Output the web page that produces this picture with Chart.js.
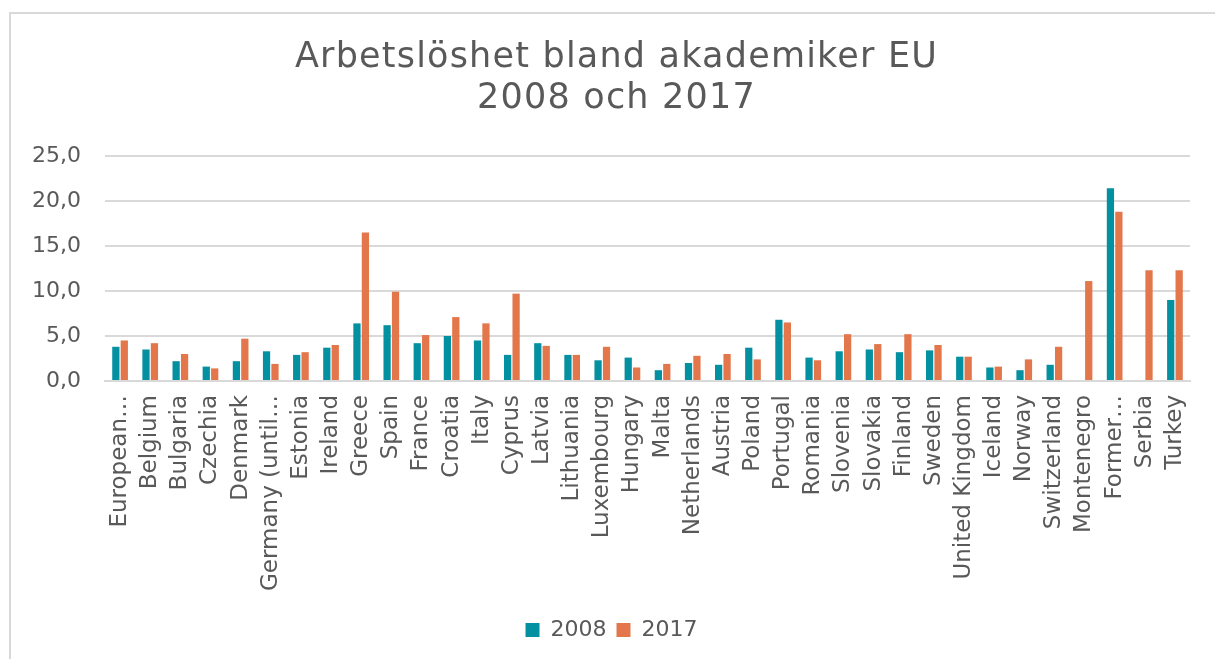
<!DOCTYPE html>
<html>
<head>
<meta charset="utf-8">
<script src="https://cdn.jsdelivr.net/npm/chart.js@4/dist/chart.umd.min.js"></script>
<style>
  html, body { margin: 0; padding: 0; background: #fff; overflow: hidden; }
  #frame {
    position: absolute; left: 9px; top: 12px; width: 1206px; height: 660px;
    border-left: 2px solid #d9d9d9; border-top: 2px solid #d9d9d9;
  }
  #wrap { position: absolute; left: 0; top: 0; width: 1215px; height: 659px; }
</style>
</head>
<body>
<div id="frame"></div>
<div id="wrap"><canvas id="barChart"></canvas></div>
<script>
// labels as shown on the axis (long names are cut off in the original)
let countries = ['European…', 'Belgium', 'Bulgaria', 'Czechia', 'Denmark', 'Germany (until…',
    'Estonia', 'Ireland', 'Greece', 'Spain', 'France', 'Croatia', 'Italy', 'Cyprus', 'Latvia',
    'Lithuania', 'Luxembourg', 'Hungary', 'Malta', 'Netherlands', 'Austria', 'Poland', 'Portugal',
    'Romania', 'Slovenia', 'Slovakia', 'Finland', 'Sweden', 'United Kingdom', 'Iceland', 'Norway',
    'Switzerland', 'Montenegro', 'Former…', 'Serbia', 'Turkey']

let values2008 = [3.8, 3.5, 2.2, 1.6, 2.2, 3.3, 2.9, 3.7, 6.4, 6.2, 4.2, 5.0, 4.5, 2.9, 4.2,
    2.9, 2.3, 2.6, 1.2, 2.0, 1.8, 3.7, 6.8, 2.6, 3.3, 3.5, 3.2, 3.4, 2.7, 1.5, 1.2,
    1.8, null, 21.4, null, 9.0]

let values2017 = [4.5, 4.2, 3.0, 1.4, 4.7, 1.9, 3.2, 4.0, 16.5, 9.9, 5.1, 7.1, 6.4, 9.7, 3.9,
    2.9, 3.8, 1.5, 1.9, 2.8, 3.0, 2.4, 6.5, 2.3, 5.2, 4.1, 5.2, 4.0, 2.7, 1.6, 2.4,
    3.8, 11.1, 18.8, 12.3, 12.3]

let seriesNames = ['2008', '2017']
let yTicks = [0, 5, 10, 15, 20, 25]

let grey = '#595959'
let gridGrey = '#d9d9d9'

let ctx = document.querySelector('#barChart').getContext('2d')

let dados = {
    labels: countries,
    datasets: [
        { label: seriesNames[0], data: values2008, backgroundColor: '#0391a1' },
        { label: seriesNames[1], data: values2017, backgroundColor: '#e3764a' }
    ]
}

let opcoes = {
    responsive: true,
    maintainAspectRatio: false,
    animation: false,
    categoryPercentage: 0.56,
    barPercentage: 0.86,
    layout: { padding: { left: 33, right: 25, top: 37, bottom: 8 } },
    plugins: {
        title: {
            display: true,
            text: ['Arbetslöshet bland akademiker EU', '2008 och 2017'],
            color: grey,
            font: { family: 'DejaVu Sans', size: 35, weight: 'normal', lineHeight: 1.17 },
            padding: { top: 0, bottom: 37 }
        },
        legend: {
            position: 'bottom',
            labels: {
                color: grey,
                boxWidth: 14,
                boxHeight: 14,
                padding: 10,
                font: { family: 'DejaVu Sans', size: 22 }
            }
        },
        tooltip: { enabled: false }
    },
    scales: {
        x: {
            grid: { display: false },
            border: { color: gridGrey, width: 2 },
            afterFit: function (axis) { axis.height = 228 },
            ticks: {
                color: grey,
                autoSkip: false,
                minRotation: 90,
                maxRotation: 90,
                padding: 6,
                font: { family: 'DejaVu Sans', size: 23 }
            }
        },
        y: {
            min: 0,
            max: 25,
            afterFit: function (axis) { axis.width = 72 },
            afterBuildTicks: function (axis) {
                axis.ticks = yTicks.map(v => ({ value: v }))
            },
            grid: { color: gridGrey, lineWidth: 2, drawTicks: false },
            border: { display: false },
            ticks: {
                color: grey,
                padding: 24,
                font: { family: 'DejaVu Sans', size: 22 },
                callback: v => v.toFixed(1).replace('.', ',')
            }
        }
    }
}

let barChart = new Chart(ctx, { type: 'bar', data: dados, options: opcoes })

// the original title runs a little wider than DejaVu, so space the letters slightly
let titleDraw = barChart.titleBlock.draw
barChart.titleBlock.draw = function () {
    let c = this.ctx
    c.save()
    c.letterSpacing = '1.2px'
    c.translate(5, 0)
    titleDraw.call(this)
    c.restore()
}
barChart.draw()
</script>
</body>
</html>
